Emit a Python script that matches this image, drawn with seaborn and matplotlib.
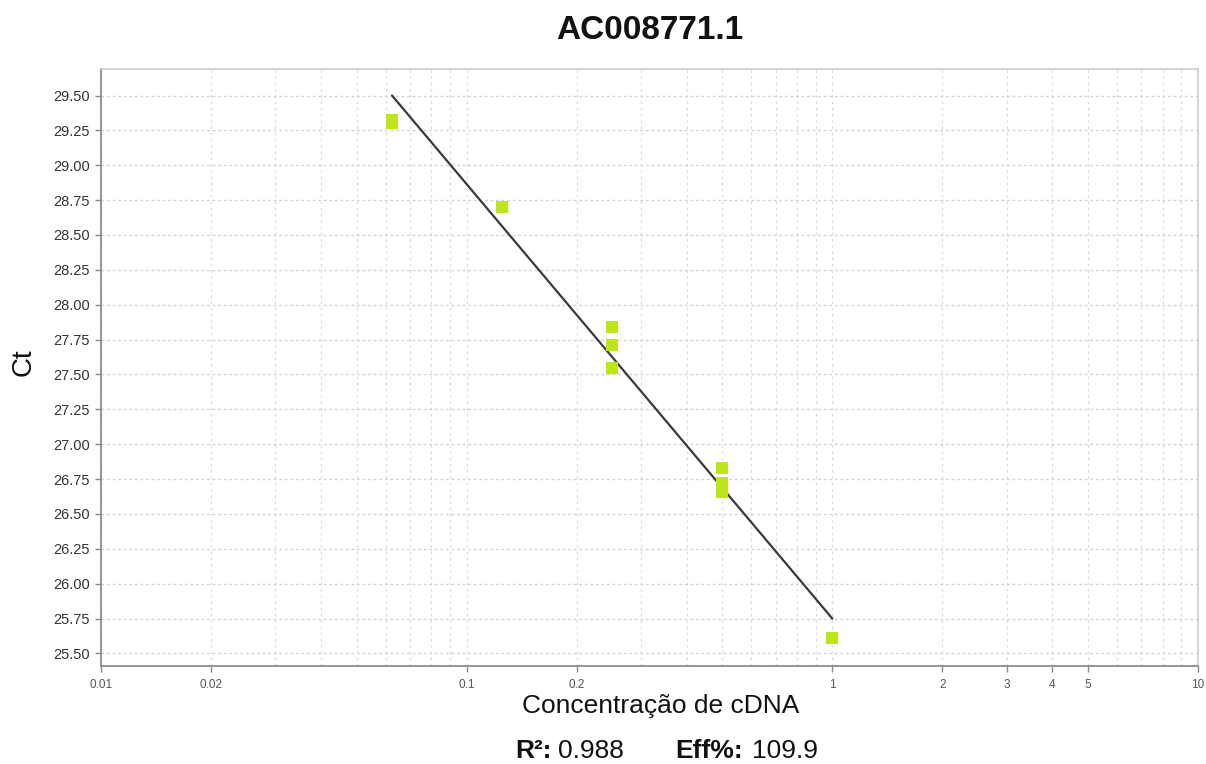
import seaborn as sns
import matplotlib.pyplot as plt
import matplotlib.ticker as mticker
import numpy as np
import pandas as pd

sns.set_theme(style="white")
plt.rcParams['font.family'] = ['Liberation Sans', 'DejaVu Sans']

# diluicoes (concentracao de cDNA) e Ct
conc = [0.0625, 0.0625, 0.125, 0.25, 0.25, 0.25, 0.5, 0.5, 0.5, 1.0]
ct = [29.325, 29.305, 28.70, 27.84, 27.71, 27.545, 26.83, 26.72, 26.66, 25.61]

# reta da curva padrao (extremos)
fit_conc = [0.0625, 1.0]
fit_ct = [29.50, 25.75]

xticks = [0.01, 0.02, 0.1, 0.2, 1, 2, 3, 4, 5, 10]
xticklabels = ["0.01", "0.02", "0.1", "0.2", "1", "2", "3", "4", "5", "10"]
yticks = np.arange(25.5, 29.51, 0.25)

titulo = "AC008771.1"
r2 = "0.988"
eff = "109.9"

df = pd.DataFrame({"conc": conc, "ct": ct})
df_fit = pd.DataFrame({"conc": fit_conc, "ct": fit_ct})

fig = plt.figure(figsize=(12.06, 7.64), dpi=100)
ax = fig.add_axes([101/1206, 1-666/764, (1198-101)/1206, (666-69)/764])

sns.lineplot(data=df_fit, x="conc", y="ct", ax=ax, color="#3a3a3a", lw=1.6, zorder=2)
sns.scatterplot(data=df, x="conc", y="ct", ax=ax, marker="s", s=76,
                color="#bde619", linewidth=0, zorder=3)

ax.set_xscale("log")
ax.set_xlim(0.01, 10)
ax.set_ylim(25.41, 29.69)

ax.xaxis.set_major_locator(mticker.FixedLocator(xticks))
ax.xaxis.set_major_formatter(mticker.FixedFormatter(xticklabels))
ax.xaxis.set_minor_locator(mticker.LogLocator(base=10, subs=np.arange(1, 10)))
ax.xaxis.set_minor_formatter(mticker.NullFormatter())
ax.set_yticks(yticks)
ax.set_yticklabels([f"{v:.2f}" for v in yticks])

ax.grid(True, which="both", axis="x", color="#d9d9d9", ls=(0, (2, 3)), lw=0.9)
ax.grid(True, which="major", axis="y", color="#d2d2d2", ls=(0, (2, 2)), lw=1.0)

ax.tick_params(axis="x", which="major", length=4, width=1, color="#888888",
               labelsize=8.5, labelcolor="#555555", direction="out", bottom=True, pad=5)
ax.tick_params(axis="x", which="minor", length=0)
ax.tick_params(axis="y", length=4, width=1, color="#888888",
               labelsize=10.5, labelcolor="#333333", direction="out", left=True, pad=4)

for s in ["left", "bottom"]:
    ax.spines[s].set_color("#8c8c8c")
    ax.spines[s].set_linewidth(1.3)
for s in ["top", "right"]:
    ax.spines[s].set_color("#cccccc")
    ax.spines[s].set_linewidth(1.2)

ax.set_xlabel("Concentração de cDNA", fontsize=19, color="#111111")
ax.set_ylabel("Ct", fontsize=20, color="#111111")
ax.xaxis.set_label_coords((661-101)/1097, (666-706)/597)
ax.yaxis.set_label_coords((24-101)/1097, (666-362)/597)
ax.xaxis.label.set_va("center")
ax.yaxis.label.set_va("center")

fig.text(650/1206, 1-30.5/764, titulo, ha="center", va="center",
         fontsize=24, fontweight="bold", color="#111111")

# linha de estatisticas
yb = 1-758/764
fig.text(515/1206, yb, "R²:", ha="left", va="baseline", fontsize=19, fontweight="bold", color="#111111")
fig.text(558/1206, yb, r2, ha="left", va="baseline", fontsize=19, color="#111111")
fig.text(675/1206, yb, "Eff%:", ha="left", va="baseline", fontsize=19, fontweight="bold", color="#111111")
fig.text(752/1206, yb, eff, ha="left", va="baseline", fontsize=19, color="#111111")

fig.savefig("out.png", dpi=100)
